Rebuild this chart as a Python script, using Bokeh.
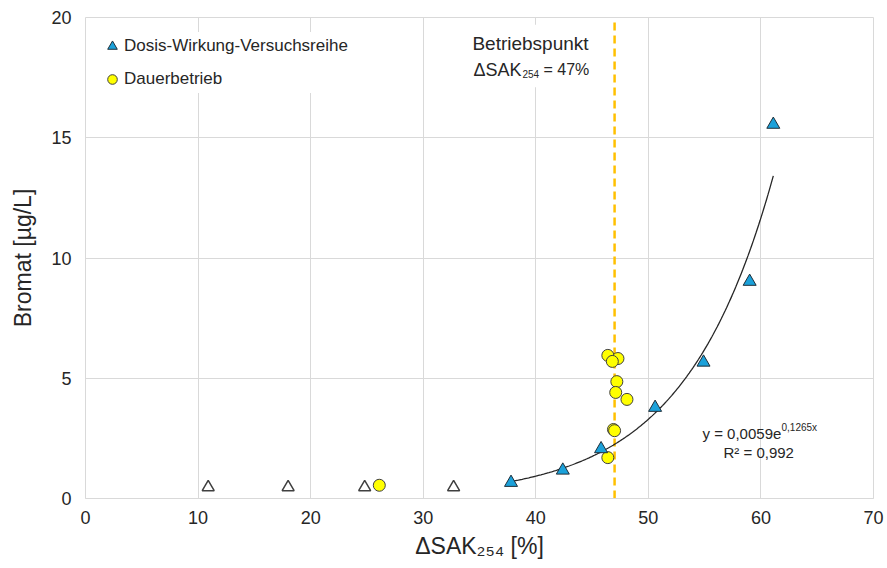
import numpy as np
from bokeh.plotting import figure
from bokeh.models import (Range1d, FixedTicker, Label, Legend, LegendItem)
from bokeh.embed import file_html
from bokeh.resources import INLINE

# ---------------- data ----------------
dw_x = [37.8, 42.4, 45.8, 50.6, 54.9, 59.0, 61.1]          # Dosis-Wirkung-Versuchsreihe
dw_y = [0.66, 1.17, 2.06, 3.78, 5.66, 9.02, 15.55]
blank_x = [10.9, 18.0, 24.8, 32.7]                          # open triangles (below limit)
blank_y = [0.47, 0.47, 0.47, 0.47]
db_x = [26.1, 46.4, 47.3, 46.8, 47.2, 47.1, 48.1, 46.9, 47.0, 46.4]   # Dauerbetrieb
db_y = [0.55, 5.95, 5.82, 5.70, 4.86, 4.41, 4.12, 2.87, 2.82, 1.70]
fit_a, fit_b = 0.0059, 0.1265
fit_range = [37.5, 61.1]
betrieb_x = 47
x_ticks = [0, 10, 20, 30, 40, 50, 60, 70]
y_ticks = [0, 5, 10, 15, 20]

FONT = "Liberation Sans"
TXT = "#262626"

p = figure(width=887, height=568, output_backend="svg", toolbar_location=None,
           x_range=Range1d(0, 70), y_range=Range1d(0, 20),
           min_border_left=85, min_border_right=14, min_border_top=17,
           min_border_bottom=70)
p.background_fill_color = "white"
p.border_fill_color = "white"
p.outline_line_color = "#d9d9d9"

for ax in (p.xaxis[0], p.yaxis[0]):
    ax.major_tick_line_color = None
    ax.minor_tick_line_color = None
    ax.major_tick_out = 0
    ax.major_tick_in = 0
    ax.major_label_text_font = FONT
    ax.major_label_text_font_size = "18px"
    ax.major_label_text_color = TXT
    ax.axis_label_text_font = FONT
    ax.axis_label_text_font_style = "normal"
    ax.axis_label_text_color = TXT
    ax.axis_label_text_font_size = "23px"
p.xaxis.ticker = FixedTicker(ticks=x_ticks)
p.yaxis.ticker = FixedTicker(ticks=y_ticks)
p.xaxis.axis_line_color = "#d9d9d9"
p.yaxis.axis_line_color = None
p.xaxis.major_label_standoff = 12
p.yaxis.major_label_standoff = 14
p.yaxis.axis_label = "Bromat [µg/L]"
p.yaxis.axis_label_standoff = 12
p.xaxis.axis_label = "ΔSAK₂₅₄ [%]"
p.xaxis.axis_label_standoff = 6

p.xgrid.ticker = FixedTicker(ticks=x_ticks)
p.ygrid.ticker = FixedTicker(ticks=y_ticks)
p.grid.grid_line_color = "#d9d9d9"
p.grid.grid_line_width = 1

# white box behind the "Betriebspunkt" annotation
p.quad(left=[35.5], right=[46.6], bottom=[17.1], top=[19.7],
       fill_color="white", line_color=None)

# operating point line
p.line([betrieb_x, betrieb_x], [0, 19.8], line_color="#FFC000", line_width=2.5,
       line_dash="8 5")

# trend line
xf = np.linspace(fit_range[0], fit_range[1], 200)
p.line(xf, fit_a * np.exp(fit_b * xf), line_color="#262626", line_width=1.3)

r_blank = p.scatter(blank_x, blank_y, marker="triangle", size=12,
                    fill_color="white", line_color="#404040", line_width=1.5)
r_db = p.scatter(db_x, db_y, marker="circle", size=12,
                 fill_color="#FFFF00", line_color="#404040", line_width=1)
r_dw = p.scatter(dw_x, dw_y, marker="triangle", size=13,
                 fill_color="#1BA1DA", line_color="#1F2F3A", line_width=1)

legend = Legend(items=[LegendItem(label="Dosis-Wirkung-Versuchsreihe", renderers=[r_dw]),
                       LegendItem(label="Dauerbetrieb", renderers=[r_db])],
                location="top_left", margin=15, padding=9,
                glyph_width=24, glyph_height=28, label_standoff=0, spacing=5,
                label_text_font=FONT, label_text_font_size="17px",
                label_text_color=TXT, background_fill_color="white",
                background_fill_alpha=1.0, border_line_color=None)
p.add_layout(legend)

# helpers: pixel -> data
def dx(px):
    return (px - 85) / (788 / 70)

def dy(py):
    return (498 - py) / (481 / 20)

def lab(px, py, text, size, align="left", baseline="alphabetic"):
    p.add_layout(Label(x=dx(px), y=dy(py), text=text, text_font=FONT,
                       text_font_size=size, text_color=TXT, text_align=align,
                       text_baseline=baseline))

# Betriebspunkt annotation
lab(530, 43, "Betriebspunkt", "19px", align="center")
lab(473, 69, "ΔSAK", "18px")
lab(522, 73, "254", "10px")
lab(543, 69, "= 47%", "16px")

# trend equation
lab(702, 433, "y = 0,0059e", "15px")
lab(781, 427, "0,1265x", "10px")
lab(723, 452, "R² = 0,992", "15px")

with open("out.html", "w") as f:
    f.write(file_html(p, INLINE))
